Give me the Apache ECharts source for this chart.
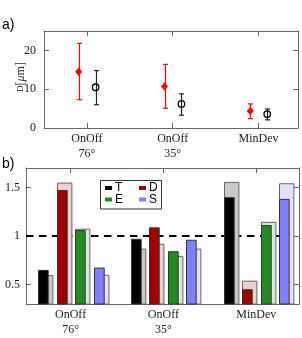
<!DOCTYPE html>
<html><head><meta charset="utf-8">
<script src="https://cdn.jsdelivr.net/npm/echarts@6/dist/echarts.min.js"></script>
<style>html,body{margin:0;padding:0;background:#fff}#c{width:302px;height:338px}</style>
</head><body><div id="c"></div>
<script>
// ---- shared categories ----
const groups = ['OnOff\n76°', 'OnOff\n35°', 'MinDev'];
const groupPos = [1, 2, 3];

// ---- panel a: size with error bars ----
const sizeTicks = [0, 10, 20];
const redMean = [14.5, 10.7, 4.4];
const redLow = [7.3, 5.1, 2.4];
const redHigh = [21.8, 16.4, 6.2];
const blackMean = [10.5, 6.2, 3.6];
const blackLow = [6.0, 3.3, 2.1];
const blackHigh = [14.8, 8.8, 4.9];

// ---- panel b: ratios ----
const ratioTicks = [0.5, 1, 1.5];
const seriesNames = ['T', 'D', 'E', 'S'];
const tSolid = [0.646, 0.966, 1.394];
const tLight = [0.592, 0.865, 1.552];
const dSolid = [1.468, 1.084, 0.447];
const dLight = [1.545, 0.915, 0.535];
const eSolid = [1.057, 0.838, 1.108];
const eLight = [1.070, 0.788, 1.141];
const sSolid = [0.670, 0.956, 1.377];
const sLight = [0.596, 0.865, 1.538];
const refLevel = [1];

const solidValues = [tSolid, dSolid, eSolid, sSolid];
const lightValues = [tLight, dLight, eLight, sLight];
const solidColors = ['#000000', '#a00000', '#228b22', '#8080ff'];
const lightColors = ['#c8c8c8', '#ecd0d0', '#d6ead6', '#e2e2ff'];

const SERIF = '"Liberation Serif", "DejaVu Serif", serif';
const SANS = '"Liberation Sans", Arial, sans-serif';
const BOX = '#666';

const chart = echarts.init(document.getElementById('c'), null, {renderer: 'canvas'});

function frameAxis(extra) {
  return Object.assign({
    type: 'value',
    axisLine: {show: true, onZero: false, lineStyle: {color: BOX, width: 1}},
    splitLine: {show: false},
  }, extra);
}

const xMinA = 0.5, xMaxA = 3.46, xMinB = 0.52, xMaxB = 3.46;
const yMinB = 0.3, yMaxB = 1.7;

const xLabel = {
  customValues: groupPos,
  formatter: v => groups[Math.round(v) - 1],
  fontFamily: SERIF, fontSize: 12, lineHeight: 15.5, color: '#222', margin: 3
};

const xAxis = [
  frameAxis({gridIndex: 0, position: 'bottom', min: xMinA, max: xMaxA,
    axisTick: {inside: true, length: 5, customValues: groupPos, lineStyle: {color: BOX}},
    axisLabel: xLabel}),
  frameAxis({gridIndex: 0, position: 'top', min: xMinA, max: xMaxA,
    axisTick: {inside: true, length: 5, customValues: groupPos, lineStyle: {color: BOX}},
    axisLabel: {show: false}}),
  frameAxis({gridIndex: 1, position: 'bottom', min: xMinB, max: xMaxB,
    axisTick: {inside: true, length: 5, customValues: groupPos, lineStyle: {color: BOX}},
    axisLabel: xLabel}),
  frameAxis({gridIndex: 1, position: 'top', min: xMinB, max: xMaxB,
    axisTick: {inside: true, length: 5, customValues: groupPos, lineStyle: {color: BOX}},
    axisLabel: {show: false}}),
];

const yAxis = [
  frameAxis({gridIndex: 0, position: 'left', min: 0, max: 25,
    axisTick: {inside: true, length: 5, customValues: sizeTicks, lineStyle: {color: BOX}},
    axisLabel: {customValues: sizeTicks, fontFamily: SERIF, fontSize: 12, color: '#222', margin: 8}}),
  frameAxis({gridIndex: 0, position: 'right', min: 0, max: 25,
    axisTick: {inside: true, length: 5, customValues: sizeTicks, lineStyle: {color: BOX}},
    axisLabel: {show: false}}),
  frameAxis({gridIndex: 1, position: 'left', min: yMinB, max: yMaxB,
    axisTick: {inside: true, length: 5, customValues: ratioTicks, lineStyle: {color: BOX}},
    axisLabel: {customValues: ratioTicks, formatter: v => String(v), fontFamily: SERIF, fontSize: 12, color: '#222', margin: 6}}),
  frameAxis({gridIndex: 1, position: 'right', min: yMinB, max: yMaxB,
    axisTick: {inside: true, length: 5, customValues: ratioTicks, lineStyle: {color: BOX}},
    axisLabel: {show: false}}),
];

function errRender(offset, color) {
  return function (params, api) {
    const x = api.value(0), lo = api.value(1), hi = api.value(2);
    const pLo = api.coord([x, lo]), pHi = api.coord([x, hi]);
    const cx = Math.round(pLo[0] + offset) + 0.5;
    const cap = 2.5;
    const mk = (x1, y1, x2, y2) => ({type: 'line', shape: {x1, y1, x2, y2},
      style: {stroke: color, lineWidth: 1.2, fill: null}});
    return {type: 'group', children: [
      mk(cx, pLo[1], cx, pHi[1]),
      mk(cx - cap, pLo[1], cx + cap, pLo[1]),
      mk(cx - cap, pHi[1], cx + cap, pHi[1]),
    ]};
  };
}

const slotLeft = [-32.5, -14, 4.5, 23];
const solidW = 9.7, lightW = 14.4;
function barRender(k) {
  return function (params, api) {
    const x = api.value(0), vs = api.value(1), vl = api.value(2);
    const base = api.coord([x, yMinB]);
    const pS = api.coord([x, vs]);
    const pL = api.coord([x, vl]);
    const left = Math.round(base[0] + slotLeft[k]) + 0.5;
    return {type: 'group', children: [
      {type: 'rect', shape: {x: left, y: pL[1], width: lightW, height: base[1] - pL[1]},
        style: {fill: lightColors[k], stroke: '#666', lineWidth: 1}},
      {type: 'rect', shape: {x: left, y: pS[1], width: solidW, height: base[1] - pS[1]},
        style: {fill: solidColors[k], stroke: '#333', lineWidth: 1}},
    ]};
  };
}

const series = [
  {type: 'custom', name: 'errRed', xAxisIndex: 0, yAxisIndex: 0, z: 2, silent: true,
    itemStyle: {color: '#ff0000'},
    renderItem: errRender(-8.2, '#ff0000'), encode: {x: 0, y: [1, 2]},
    data: groupPos.map((p, i) => [p, redLow[i], redHigh[i]])},
  {type: 'custom', name: 'errBlack', xAxisIndex: 0, yAxisIndex: 0, z: 2, silent: true,
    itemStyle: {color: '#222'},
    renderItem: errRender(8.7, '#222222'), encode: {x: 0, y: [1, 2]},
    data: groupPos.map((p, i) => [p, blackLow[i], blackHigh[i]])},
  {type: 'scatter', name: 'meanRed', xAxisIndex: 0, yAxisIndex: 0, z: 3, silent: true,
    symbol: 'diamond', symbolSize: [7, 8.5], symbolOffset: [-8.2, 0],
    itemStyle: {color: '#ff0000', opacity: 1},
    data: groupPos.map((p, i) => [p, redMean[i]])},
  {type: 'scatter', name: 'meanBlack', xAxisIndex: 0, yAxisIndex: 0, z: 3, silent: true,
    symbol: 'circle', symbolSize: 6.5, symbolOffset: [8.7, 0],
    itemStyle: {color: 'rgba(0,0,0,0)', borderColor: '#000', borderWidth: 1.3, opacity: 1},
    data: groupPos.map((p, i) => [p, blackMean[i]])},
  {type: 'custom', name: 'ref', xAxisIndex: 2, yAxisIndex: 2, z: 1, silent: true,
    renderItem: function (params, api) {
      const cs = params.coordSys;
      const y = Math.round(api.coord([1, api.value(0)])[1]);
      return {type: 'line', shape: {x1: cs.x, y1: y, x2: cs.x + cs.width, y2: y},
        style: {stroke: '#000', lineWidth: 2, lineDash: [7.5, 5.5]}};
    },
    encode: {y: 0},
    data: refLevel.map(v => [v])},
];
seriesNames.forEach((n, k) => {
  series.push({
    type: 'custom', name: n, xAxisIndex: 2, yAxisIndex: 2, z: 2, silent: true,
    itemStyle: {color: solidColors[k]},
    renderItem: barRender(k), encode: {x: 0, y: [1, 2]},
    data: groupPos.map((p, i) => [p, solidValues[k][i], lightValues[k][i]])
  });
});

const legend = seriesNames.map((n, k) => ({
  data: [n], left: (k % 2) ? 139 : 105, top: k < 2 ? 182 : 193.5,
  orient: 'horizontal', padding: 0, itemWidth: 7, itemHeight: 4, itemGap: 0,
  icon: 'rect', selectedMode: false, z: 6,
  textStyle: {fontFamily: SANS, fontSize: 12, color: '#000', padding: [0, 0, 0, -2]}
}));

chart.setOption({
  animation: false,
  backgroundColor: '#fff',
  grid: [
    {left: 44, right: 4, top: 31, bottom: 210},
    {left: 26, right: 3, top: 168, bottom: 32},
  ],
  xAxis, yAxis, series, legend,
  graphic: [
    {type: 'text', left: 2, top: 18, style: {text: 'a)', fontFamily: SANS, fontSize: 14, fill: '#000'}},
    {type: 'text', left: 2, top: 157, style: {text: 'b)', fontFamily: SANS, fontSize: 14, fill: '#000'}},
    {type: 'text', x: 21, y: 77, rotation: Math.PI / 2,
      style: {text: '{s|D}{n|[}{i|μ}{n|m]}', align: 'center', verticalAlign: 'middle',
        rich: {
          s: {fontFamily: SERIF, fontSize: 9, fill: '#222'},
          n: {fontFamily: SERIF, fontSize: 12, fill: '#222'},
          i: {fontFamily: SERIF, fontSize: 12, fontStyle: 'italic', fill: '#222'}
        }}},
    {type: 'rect', z: 5, shape: {x: 100.5, y: 180.5, width: 61, height: 28.5},
      style: {fill: '#fff', stroke: '#333', lineWidth: 1}},
  ]
});
</script></body></html>
